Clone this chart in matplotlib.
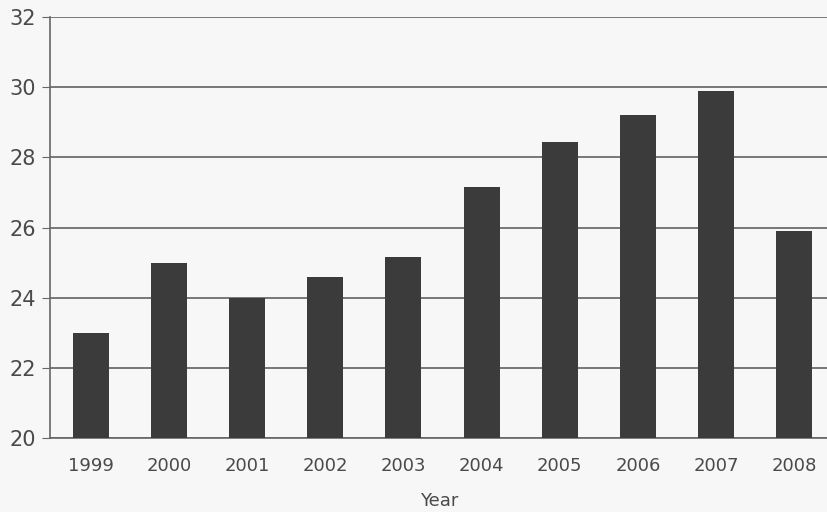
import matplotlib.pyplot as plt
import numpy as np

years = ["1999", "2000", "2001", "2002", "2003", "2004", "2005", "2006", "2007", "2008"]
values = [23.0, 25.0, 24.0, 24.6, 25.15, 27.15, 28.45, 29.2, 29.9, 25.9]

fig = plt.figure(figsize=(8.28, 5.12), dpi=100)
fig.patch.set_facecolor("#f7f7f7")
ax = fig.add_axes([50 / 828, 74 / 512, 778 / 828, 421 / 512])
ax.set_facecolor("#f7f7f7")

x = np.arange(len(years))
ax.bar(x, values, width=0.46, color="#3b3b3b", zorder=3)

ax.set_ylim(20, 32)
ax.set_xlim(-0.52, 9.43)
ax.set_yticks(np.arange(20, 33, 2))
ax.set_xticks(x)
ax.set_xticklabels(years)

ax.grid(axis="y", color="#555555", linewidth=1.1, zorder=1)
for s in ["top", "right"]:
    ax.spines[s].set_visible(False)
ax.spines["left"].set_color("#666666")
ax.spines["bottom"].set_color("#666666")
ax.spines["left"].set_linewidth(1.2)
ax.spines["bottom"].set_linewidth(1.2)

ax.tick_params(axis="y", length=6, color="#666666", labelsize=15, labelcolor="#4a4a4a", pad=4)
ax.tick_params(axis="x", length=0, labelsize=13, labelcolor="#4a4a4a", pad=14)
ax.set_xlabel("Year", fontsize=13, color="#4a4a4a", labelpad=12)

fig.savefig("out.png", dpi=100, facecolor=fig.get_facecolor())
